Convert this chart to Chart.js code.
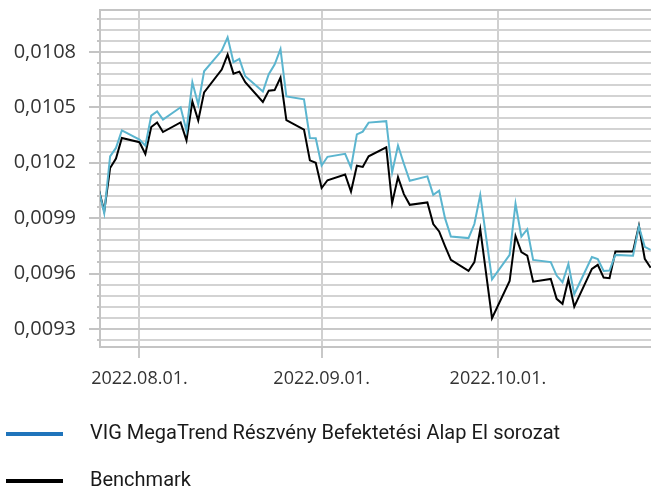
<!DOCTYPE html>
<html>
<head>
<meta charset="utf-8">
<script src="https://cdn.jsdelivr.net/npm/chart.js@4.4.0/dist/chart.umd.min.js"></script>
<style>
html,body{margin:0;padding:0;background:#fff;overflow:hidden}
#wrap{position:relative;width:651px;height:487px}
</style>
</head>
<body>
<div id="wrap"><canvas id="c"></canvas></div>
<script>
// ---- data ----
const dates = [
 '2022-07-25','2022-07-26','2022-07-27','2022-07-28','2022-07-29',
 '2022-08-01','2022-08-02','2022-08-03','2022-08-04','2022-08-05',
 '2022-08-08','2022-08-09','2022-08-10','2022-08-11','2022-08-12',
 '2022-08-15','2022-08-16','2022-08-17','2022-08-18','2022-08-19',
 '2022-08-22','2022-08-23','2022-08-24','2022-08-25','2022-08-26',
 '2022-08-29','2022-08-30','2022-08-31','2022-09-01','2022-09-02',
 '2022-09-05','2022-09-06','2022-09-07','2022-09-08','2022-09-09',
 '2022-09-12','2022-09-13','2022-09-14','2022-09-15','2022-09-16',
 '2022-09-19','2022-09-20','2022-09-21','2022-09-22','2022-09-23',
 '2022-09-26','2022-09-27','2022-09-28','2022-09-30',
 '2022-10-03','2022-10-04','2022-10-05','2022-10-06','2022-10-07',
 '2022-10-10','2022-10-11','2022-10-12','2022-10-13','2022-10-14',
 '2022-10-17','2022-10-18','2022-10-19','2022-10-20','2022-10-21',
 '2022-10-24','2022-10-25','2022-10-26','2022-10-27'
];
const fundValues = [
 0.010064,0.009927,0.010234,0.010280,0.010375,
 0.010325,0.010292,0.010455,0.010478,0.010433,
 0.010500,0.010373,0.010635,0.010514,0.010695,
 0.010807,0.010879,0.010744,0.010762,0.010668,
 0.010585,0.010679,0.010731,0.010815,0.010559,
 0.010543,0.010334,0.010332,0.010185,0.010232,
 0.010248,0.010173,0.010353,0.010368,0.010417,
 0.010425,0.010147,0.010293,0.010194,0.010102,
 0.010126,0.010026,0.010048,0.009900,0.009800,
 0.009792,0.009868,0.010026,0.009569,
 0.009701,0.009978,0.009800,0.009840,0.009674,
 0.009662,0.009589,0.009553,0.009652,0.009488,
 0.009689,0.009678,0.009614,0.009616,0.009701,
 0.009696,0.009855,0.009745,0.009728
];
const benchmarkValues = [
 0.010064,0.009937,0.010171,0.010222,0.010334,
 0.010311,0.010247,0.010393,0.010418,0.010366,
 0.010418,0.010321,0.010532,0.010429,0.010581,
 0.010704,0.010785,0.010682,0.010693,0.010636,
 0.010529,0.010590,0.010593,0.010661,0.010430,
 0.010379,0.010213,0.010200,0.010063,0.010105,
 0.010136,0.010044,0.010184,0.010177,0.010235,
 0.010283,0.009981,0.010122,0.010030,0.009972,
 0.009985,0.009868,0.009828,0.009749,0.009674,
 0.009614,0.009662,0.009840,0.009358,
 0.009560,0.009804,0.009716,0.009697,0.009556,
 0.009571,0.009463,0.009436,0.009569,0.009421,
 0.009625,0.009647,0.009578,0.009575,0.009719,
 0.009719,0.009858,0.009680,0.009631
];
const seriesNames = ['VIG MegaTrend Részvény Befektetési Alap EI sorozat', 'Benchmark'];
const xTickDates = ['2022-08-01', '2022-09-01', '2022-10-01'];
const xTickLabels = ['2022.08.01.', '2022.09.01.', '2022.10.01.'];
const yTickValues = [0.0093, 0.0096, 0.0099, 0.0102, 0.0105, 0.0108];
const yTickLabels = ['0,0093', '0,0096', '0,0099', '0,0102', '0,0105', '0,0108'];
const yMinorStep = 0.00006;

// ---- helpers ----
const BASE = Date.UTC(2022, 7, 1);
function dayNum(s) {
  const p = s.split('-').map(Number);
  return (Date.UTC(p[0], p[1] - 1, p[2]) - BASE) / 864e5;
}
const X_MIN = dayNum('2022-07-25') + 0.28;
const X_MAX = dayNum('2022-10-27') + 0.06;
const Y_MIN = 0.0092024;
const Y_MAX = 0.0110266;

function majorIndex(v) {
  for (let i = 0; i < yTickValues.length; i++) if (Math.abs(v - yTickValues[i]) < 1e-9) return i;
  return -1;
}
function isTop(v) { return Math.abs(v - Y_MAX) < 1e-10; }

const legendPlugin = {
  id: 'lineLegend',
  afterDraw(chart) {
    const ctx = chart.ctx;
    chart.data.datasets.forEach((ds, i) => {
      const y = 434 + i * 47;
      ctx.save();
      ctx.fillStyle = ds.legendColor;
      ctx.fillRect(6, y - 2, 57, 4);
      ctx.fillStyle = '#1a1a1a';
      ctx.font = '20px Roboto';
      ctx.textBaseline = 'middle';
      ctx.textAlign = 'left';
      ctx.fillText(ds.label, 90, y);
      ctx.restore();
    });
  }
};

new Chart(document.getElementById('c'), {
  type: 'line',
  data: {
    datasets: [
      {
        label: seriesNames[0],
        data: dates.map((d, i) => ({x: dayNum(d), y: fundValues[i]})),
        borderColor: '#5bb5cf',
        legendColor: '#1f74bb',
        borderWidth: 2,
        pointRadius: 0,
        tension: 0
      },
      {
        label: seriesNames[1],
        data: dates.map((d, i) => ({x: dayNum(d), y: benchmarkValues[i]})),
        borderColor: '#000000',
        legendColor: '#000000',
        borderWidth: 2,
        pointRadius: 0,
        tension: 0
      }
    ]
  },
  options: {
    responsive: true,
    maintainAspectRatio: false,
    animation: false,
    events: [],
    layout: {padding: {left: 0, right: 0, top: 10, bottom: 100}},
    plugins: {legend: {display: false}, tooltip: {enabled: false}},
    scales: {
      x: {
        type: 'linear',
        min: X_MIN,
        max: X_MAX,
        afterBuildTicks: s => { s.ticks = xTickDates.map(d => ({value: dayNum(d)})); },
        afterFit: s => { s.height = 40; s.paddingLeft = 0; s.paddingRight = 0; },
        border: {display: true, color: '#c4c4c4', width: 2},
        grid: {display: true, drawOnChartArea: true, color: '#d0d0d0', lineWidth: 2, tickLength: 11, tickColor: '#c8c8c8', tickWidth: 2},
        ticks: {
          autoSkip: false, maxRotation: 0, minRotation: 0, padding: 10,
          color: '#333333', font: {family: 'Open Sans', size: 18},
          callback: (v, i) => xTickLabels[i]
        }
      },
      y: {
        min: Y_MIN,
        max: Y_MAX,
        afterBuildTicks: s => {
          const t = [];
          for (let k = -30; k <= 60; k++) {
            const v = yTickValues[0] + k * yMinorStep;
            if (v > Y_MIN + 1e-9 && v < Y_MAX - 1e-9) t.push({value: v});
          }
          t.push({value: Y_MAX});
          s.ticks = t;
        },
        afterFit: s => { s.width = 100; s.paddingTop = 0; s.paddingBottom = 0; },
        border: {display: true, color: '#c4c4c4', width: 2},
        grid: {
          display: true, drawOnChartArea: true,
          color: c => isTop(c.tick.value) ? '#c4c4c4' : (majorIndex(c.tick.value) >= 0 ? '#c8c8c8' : '#d3d3d3'),
          lineWidth: 2,
          tickLength: 11,
          tickWidth: 2,
          tickColor: c => isTop(c.tick.value) ? 'rgba(0,0,0,0)' : '#c4c4c4',
          tickBorderDash: c => majorIndex(c.tick.value) >= 0 ? [] : [0, 8, 3, 100]
        },
        ticks: {
          autoSkip: false, padding: 13,
          color: '#333333', font: {family: 'Open Sans', size: 20},
          callback: v => { const i = majorIndex(v); return i >= 0 ? yTickLabels[i] : ''; }
        }
      }
    }
  },
  plugins: [legendPlugin]
});
</script>
</body>
</html>
